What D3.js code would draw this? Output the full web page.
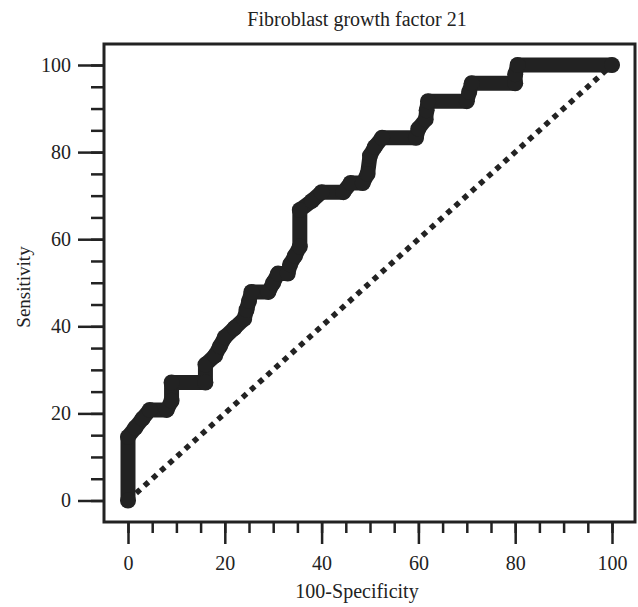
<!DOCTYPE html>
<html><head><meta charset="utf-8">
<script src="https://cdn.jsdelivr.net/npm/d3@7/dist/d3.min.js"></script>
<style>body{margin:0;background:#fff;}svg{display:block;}</style>
</head><body>
<script>
// ROC curve points: 100-Specificity (x) and Sensitivity (y)
const fpr = [0,0,1.5,3,4.5,8,9,9,16,16,18,19,20,22,24,24.5,25,25.5,29,30,31,33,33.5,34.5,35.5,35.5,38,40,44.5,46,48.5,49.5,50,51,52.5,59.5,60,61.5,61.7,62,70,70.5,71,80,80,80.5,100];
const tpr = [0,14.6,16.7,18.8,20.8,20.8,22.9,27.1,27.1,31.2,33.3,35.4,37.5,39.6,41.7,43.8,45.8,47.9,47.9,50,52.1,52.1,54.2,56.2,58.3,66.7,68.8,70.8,70.8,72.9,72.9,75,79.2,81.2,83.3,83.3,85.4,87.5,89.6,91.7,91.7,93.8,95.8,95.8,97.9,100,100];
const refLine = [[0,0],[100,100]];
const xTicks = [0,20,40,60,80,100];
const yTicks = [0,20,40,60,80,100];
const minorTicks = d3.range(0,101,5);

const W=638,H=607;
const svg=d3.select("body").append("svg").attr("width",W).attr("height",H);
const x=d3.scaleLinear().domain([0,100]).range([128,612]);
const y=d3.scaleLinear().domain([0,100]).range([500.5,65]);
const box={l:104,t:44,r:635,b:522};
const ink="#222";
const font="'Liberation Serif','Times New Roman',serif";

// frame
svg.append("rect").attr("x",box.l).attr("y",box.t).attr("width",box.r-box.l).attr("height",box.b-box.t)
  .attr("fill","none").attr("stroke",ink).attr("stroke-width",3);

// x axis ticks
const gx=svg.append("g").attr("transform",`translate(0,${box.b})`);
gx.call(d3.axisBottom(x).tickValues(minorTicks).tickSize(11).tickFormat(""));
gx.select(".domain").remove();
gx.selectAll("line").attr("stroke",ink).attr("stroke-width",2.5);
const gx2=svg.append("g").attr("transform",`translate(0,${box.b})`);
gx2.call(d3.axisBottom(x).tickValues(xTicks).tickSize(22).tickPadding(12).tickFormat(d3.format("d")));
gx2.select(".domain").remove();
gx2.selectAll("line").attr("stroke",ink).attr("stroke-width",2.5);
gx2.selectAll("text").attr("font-family",font).attr("font-size",20).attr("fill",ink);

// y axis ticks
const gy=svg.append("g").attr("transform",`translate(${box.l},0)`);
gy.call(d3.axisLeft(y).tickValues(minorTicks).tickSize(13).tickFormat(""));
gy.select(".domain").remove();
gy.selectAll("line").attr("stroke",ink).attr("stroke-width",2.5);
const gy2=svg.append("g").attr("transform",`translate(${box.l},0)`);
gy2.call(d3.axisLeft(y).tickValues(yTicks).tickSize(26).tickPadding(7).tickFormat(d3.format("d")));
gy2.select(".domain").remove();
gy2.selectAll("line").attr("stroke",ink).attr("stroke-width",2.5);
gy2.selectAll("text").attr("font-family",font).attr("font-size",20).attr("fill",ink);

// reference diagonal
svg.append("path").datum(refLine)
  .attr("d",d3.line().x(d=>x(d[0])).y(d=>y(d[1])))
  .attr("fill","none").attr("stroke",ink).attr("stroke-width",5.5).attr("stroke-dasharray","5.5,5.5");

// ROC curve
const pts=fpr.map((v,i)=>[v,tpr[i]]);
svg.append("path").datum(pts)
  .attr("d",d3.line().x(d=>x(d[0])).y(d=>y(d[1])))
  .attr("fill","none").attr("stroke",ink).attr("stroke-width",15)
  .attr("stroke-linejoin","round").attr("stroke-linecap","round");
svg.append("g").selectAll("circle").data(pts).join("circle")
  .attr("cx",d=>x(d[0])).attr("cy",d=>y(d[1])).attr("r",8).attr("fill",ink);

// titles
svg.append("text").attr("x",357).attr("y",26).attr("text-anchor","middle")
  .attr("font-family",font).attr("font-size",20).attr("fill",ink).text("Fibroblast growth factor 21");
svg.append("text").attr("x",357).attr("y",598).attr("text-anchor","middle")
  .attr("font-family",font).attr("font-size",20).attr("fill",ink).text("100-Specificity");
svg.append("text").attr("transform","translate(30,287) rotate(-90)").attr("text-anchor","middle")
  .attr("font-family",font).attr("font-size",19).attr("fill",ink).text("Sensitivity");
</script>
</body></html>
